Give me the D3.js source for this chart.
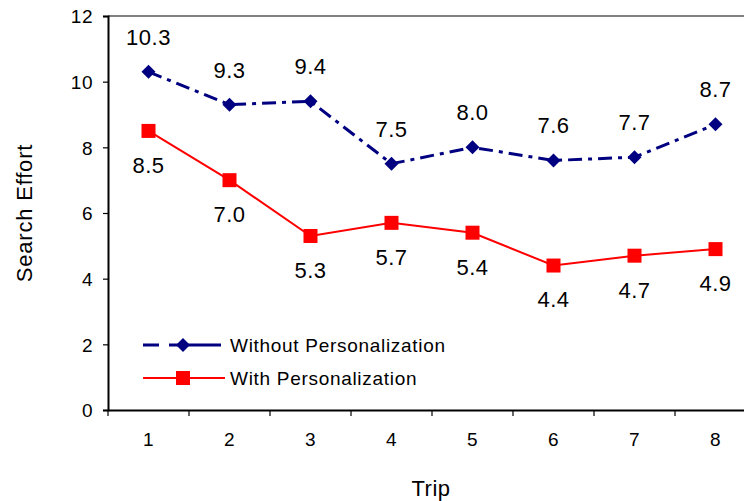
<!DOCTYPE html>
<html>
<head>
<meta charset="utf-8">
<script src="https://cdn.jsdelivr.net/npm/d3@7"></script>
<style>
  html, body { margin: 0; padding: 0; background: #fff; }
  svg { display: block; }
  text { font-family: "Liberation Sans", Arial, sans-serif; fill: #000; }
</style>
</head>
<body>
<div id="chart"></div>
<script>
// Trips and average search effort per trip
const trips = [1, 2, 3, 4, 5, 6, 7, 8];
const withoutPersonalization = [10.3, 9.3, 9.4, 7.5, 8.0, 7.6, 7.7, 8.7];
const withPersonalization = [8.5, 7.0, 5.3, 5.7, 5.4, 4.4, 4.7, 4.9];
const yTicks = [0, 2, 4, 6, 8, 10, 12];
const seriesNames = ["Without Personalization", "With Personalization"];

const W = 744, H = 501;
const plot = { left: 108, top: 16, right: 756, bottom: 410 };

const svg = d3.select("#chart").append("svg")
  .attr("width", W).attr("height", H);

const x = d3.scaleBand().domain(trips).range([plot.left, plot.right]).padding(0);
const y = d3.scaleLinear().domain([0, 12]).range([plot.bottom, plot.top]);
const cx = d => x(d) + x.bandwidth() / 2;

// top frame line (grey)
svg.append("line")
  .attr("x1", plot.left).attr("x2", plot.right)
  .attr("y1", plot.top).attr("y2", plot.top)
  .attr("stroke", "#808080").attr("stroke-width", 2);

// y axis
const yAxis = svg.append("g")
  .attr("transform", `translate(${plot.left},0)`)
  .call(d3.axisLeft(y).tickValues(yTicks).tickSize(5).tickPadding(10).tickFormat(d3.format("d")));
yAxis.select(".domain").attr("stroke", "#000").attr("stroke-width", 2);
yAxis.selectAll(".tick line").attr("stroke", "#000").attr("stroke-width", 1.2);
yAxis.selectAll(".tick text")
  .attr("dy", "0.36em")
  .style("font-size", "19px").style("letter-spacing", "0.5px")
  .style("font-family", "'Liberation Sans', Arial, sans-serif");

// x axis with ticks at category boundaries
const xAxis = svg.append("g")
  .attr("transform", `translate(0,${plot.bottom})`)
  .call(d3.axisBottom(x).tickSize(0).tickPadding(23));
xAxis.select(".domain").attr("stroke", "#000").attr("stroke-width", 2);
xAxis.selectAll(".tick text")
  .style("font-size", "19px").style("letter-spacing", "0.5px")
  .style("font-family", "'Liberation Sans', Arial, sans-serif");
xAxis.selectAll(".boundary")
  .data(trips.concat([null]))
  .enter().append("line")
  .attr("class", "boundary")
  .attr("x1", (d, i) => plot.left + i * x.bandwidth())
  .attr("x2", (d, i) => plot.left + i * x.bandwidth())
  .attr("y1", 0).attr("y2", 6)
  .attr("stroke", "#000").attr("stroke-width", 1.2);

// axis titles
svg.append("text")
  .attr("transform", `translate(32,${(plot.top + plot.bottom) / 2}) rotate(-90)`)
  .attr("text-anchor", "middle")
  .style("font-size", "22px").style("letter-spacing", "0.8px")
  .text("Search Effort");
svg.append("text")
  .attr("x", 431).attr("y", 496)
  .attr("text-anchor", "middle")
  .style("font-size", "22px").style("letter-spacing", "0.5px")
  .text("Trip");

const line = d3.line().x(d => cx(d[0])).y(d => y(d[1]));
const dash = "14,6,4,6";
const blue = "#000080", red = "#ff0000";

const seriesA = trips.map((t, i) => [t, withoutPersonalization[i]]);
const seriesB = trips.map((t, i) => [t, withPersonalization[i]]);

// red series
svg.append("path").datum(seriesB)
  .attr("d", line).attr("fill", "none")
  .attr("stroke", red).attr("stroke-width", 2);
svg.selectAll(".sq").data(seriesB).enter().append("rect")
  .attr("x", d => cx(d[0]) - 7).attr("y", d => y(d[1]) - 7)
  .attr("width", 14).attr("height", 14).attr("fill", red);

// blue series
svg.append("path").datum(seriesA)
  .attr("d", line).attr("fill", "none")
  .attr("stroke", blue).attr("stroke-width", 3)
  .attr("stroke-dasharray", dash);
const diamond = d3.symbol().type(d3.symbolSquare).size(98);
svg.selectAll(".dm").data(seriesA).enter().append("path")
  .attr("d", diamond)
  .attr("transform", d => `translate(${cx(d[0])},${y(d[1])}) rotate(45)`)
  .attr("fill", blue);

// value labels
svg.selectAll(".la").data(seriesA).enter().append("text")
  .attr("x", d => cx(d[0])).attr("y", d => y(d[1]) - 35)
  .attr("text-anchor", "middle").attr("dy", "0.36em")
  .style("font-size", "22px").style("letter-spacing", "0.5px")
  .text(d => d[1].toFixed(1));
svg.selectAll(".lb").data(seriesB).enter().append("text")
  .attr("x", d => cx(d[0])).attr("y", d => y(d[1]) + 34)
  .attr("text-anchor", "middle").attr("dy", "0.36em")
  .style("font-size", "22px").style("letter-spacing", "0.5px")
  .text(d => d[1].toFixed(1));

// legend
const legend = svg.append("g");
const legY = [345, 378];
legend.append("line")
  .attr("x1", 143).attr("x2", 222).attr("y1", legY[0]).attr("y2", legY[0])
  .attr("stroke", blue).attr("stroke-width", 3).attr("stroke-dasharray", "16,10,52,10");
legend.append("path")
  .attr("d", diamond)
  .attr("transform", `translate(183,${legY[0]}) rotate(45)`)
  .attr("fill", blue);
legend.append("line")
  .attr("x1", 143).attr("x2", 225).attr("y1", legY[1]).attr("y2", legY[1])
  .attr("stroke", red).attr("stroke-width", 2);
legend.append("rect")
  .attr("x", 176).attr("y", legY[1] - 7).attr("width", 14).attr("height", 14)
  .attr("fill", red);
legend.selectAll(".lt").data(seriesNames).enter().append("text")
  .attr("x", 230).attr("y", (d, i) => legY[i])
  .attr("dy", "0.36em")
  .style("font-size", "19px").style("letter-spacing", "0.7px")
  .text(d => d);
</script>
</body>
</html>
